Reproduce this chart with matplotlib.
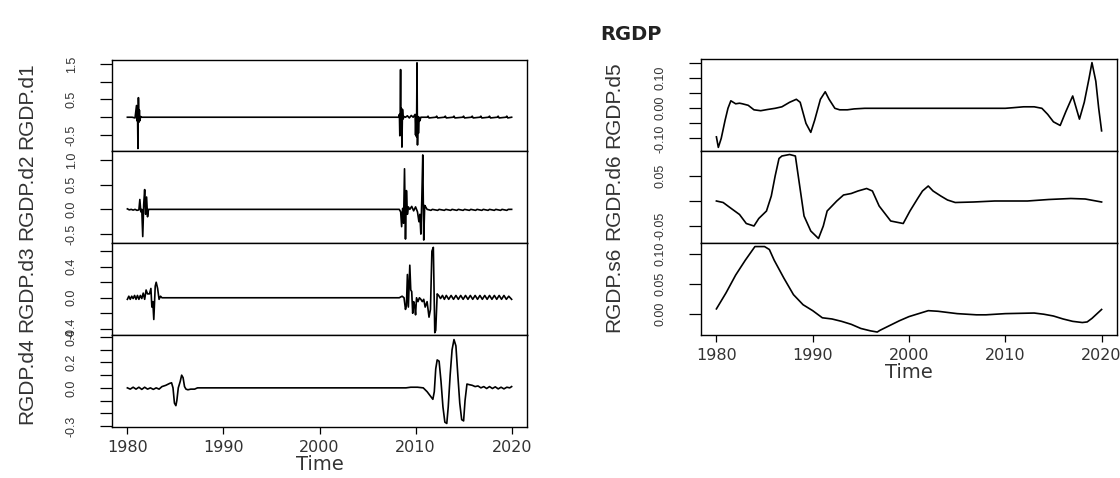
import matplotlib
matplotlib.use("Agg")
import matplotlib.pyplot as plt

# wavelet details of RGDP (time in years)
d1_t = [1980.0, 1980.5, 1980.8, 1980.95, 1981.0, 1981.05, 1981.1, 1981.15, 1981.2, 1981.25, 1981.3,
        1981.38, 1981.5, 2008.25, 2008.32, 2008.36, 2008.4, 2008.44, 2008.48, 2008.52, 2008.58, 2008.64,
        2008.7, 2008.8, 2008.95, 2009.15, 2009.35, 2009.55, 2009.75, 2009.95, 2010.0, 2010.05, 2010.1,
        2010.15, 2010.2, 2010.25, 2010.3, 2010.38, 2010.45, 2010.55, 2011.2, 2011.3, 2011.4, 2012.1,
        2012.2, 2012.3, 2013.0, 2013.1, 2013.2, 2013.9, 2014.0, 2014.1, 2014.9, 2015.0, 2015.1, 2015.8,
        2015.9, 2016.0, 2016.7, 2016.8, 2016.9, 2017.6, 2017.7, 2017.8, 2018.5, 2018.6, 2018.7, 2019.4,
        2019.5, 2019.6, 2020.0]
d1_v = [0.0, 0.0, -0.02, 0.33, -0.1, 0.3, -0.88, 0.55, -0.14, 0.2, -0.1,
        0.02, 0.0, 0.0, 0.08, -0.52, 0.1, 1.34, -0.4, 0.25, -0.84, 0.22,
        -0.05, 0.02, 0.0, 0.04, -0.02, 0.05, 0.0, 0.08, -0.5, 0.05, -0.55,
        1.53, -0.78, 0.02, -0.45, 0.0, -0.1, 0.0, 0.0, 0.03, -0.02, 0.0,
        0.03, -0.02, 0.0, 0.03, -0.02, 0.0, 0.03, -0.02, 0.0, 0.03, -0.02, 0.0,
        0.03, -0.02, 0.0, 0.03, -0.02, 0.0, 0.03, -0.02, 0.0, 0.03, -0.02, 0.0,
        0.03, -0.02, 0.0]

d2_t = [1980.0, 1980.2, 1980.4, 1980.6, 1980.8, 1981.0, 1981.2, 1981.3, 1981.4, 1981.5, 1981.6,
        1981.7, 1981.8, 1981.9, 1982.0, 1982.1, 1982.2, 1982.4, 2008.3, 2008.45, 2008.55, 2008.65,
        2008.75, 2008.85, 2008.95, 2009.05, 2009.15, 2009.25, 2009.4, 2009.6, 2009.8, 2010.0, 2010.2,
        2010.35, 2010.45, 2010.55, 2010.65, 2010.75, 2010.85, 2010.95, 2011.05, 2011.2, 2011.6, 2011.75,
        2012.3, 2012.45, 2013.0, 2013.15, 2013.65, 2013.8, 2014.3, 2014.45, 2014.95, 2015.1, 2015.6,
        2015.75, 2016.25, 2016.4, 2016.9, 2017.05, 2017.55, 2017.7, 2018.2, 2018.35, 2018.85, 2019.0,
        2019.5, 2019.65, 2020.0]
d2_v = [0.01, -0.01, 0.0, -0.015, 0.0, -0.02, -0.01, 0.2, -0.05, 0.0, -0.55,
        0.1, 0.4, -0.1, 0.25, -0.15, 0.0, 0.0, 0.0, -0.05, -0.35, 0.02,
        -0.28, 0.82, -0.6, 0.38, -0.1, 0.05, 0.0, 0.06, -0.03, 0.05, -0.05,
        -0.25, -0.1, -0.5, 0.2, 1.1, -0.62, 0.08, 0.05, 0.0, -0.02, 0.0,
        -0.02, 0.0, -0.02, 0.0, -0.02, 0.0, -0.02, 0.0, -0.02, 0.0, -0.02,
        0.0, -0.02, 0.0, -0.02, 0.0, -0.02, 0.0, -0.02, 0.0, -0.02, 0.0,
        -0.02, 0.0, 0.0]

d3_t = [1980.0, 1980.15, 1980.3, 1980.45, 1980.6, 1980.75, 1980.9, 1981.05, 1981.2, 1981.35, 1981.5,
        1981.65, 1981.8, 1981.95, 1982.1, 1982.3, 1982.45, 1982.55, 1982.65, 1982.75, 1982.9, 1983.0,
        1983.15, 1983.3, 1983.45, 1983.6, 1984.0, 2008.3, 2008.6, 2008.8, 2008.95, 2009.05, 2009.15,
        2009.25, 2009.4, 2009.5, 2009.6, 2009.7, 2009.8, 2009.9, 2010.0, 2010.1, 2010.25, 2010.4,
        2010.55, 2010.7, 2010.85, 2011.0, 2011.2, 2011.4, 2011.55, 2011.7, 2011.85, 2012.0, 2012.1,
        2012.25, 2012.4, 2012.6, 2012.8, 2013.0, 2013.2, 2013.45, 2013.7, 2013.95, 2014.2, 2014.45,
        2014.7, 2014.95, 2015.2, 2015.45, 2015.7, 2015.95, 2016.2, 2016.45, 2016.7, 2016.95, 2017.2,
        2017.45, 2017.7, 2017.95, 2018.2, 2018.45, 2018.7, 2018.95, 2019.2, 2019.45, 2019.7, 2020.0]
d3_v = [-0.02, 0.02, -0.02, 0.02, -0.01, 0.03, -0.02, 0.03, -0.02, 0.03, -0.01,
        0.06, -0.02, 0.1, 0.05, 0.05, 0.12, -0.12, -0.05, -0.28, 0.15, 0.2,
        0.12, -0.02, 0.02, 0.0, 0.0, 0.0, 0.02, 0.0, -0.15, -0.1, 0.3,
        -0.12, 0.42, 0.1, 0.08, -0.2, -0.05, -0.1, -0.22, 0.0, -0.05, 0.0,
        -0.02, -0.05, -0.02, -0.12, -0.05, -0.25, -0.15, 0.6, 0.65, -0.45, -0.42,
        0.05, 0.03, -0.01, 0.03, -0.02, 0.03, -0.02, 0.03, -0.02, 0.03, -0.02,
        0.03, -0.02, 0.03, -0.02, 0.03, -0.02, 0.03, -0.02, 0.03, -0.02, 0.03,
        -0.02, 0.03, -0.02, 0.03, -0.02, 0.03, -0.02, 0.03, -0.02, 0.02, -0.02]

d4_t = [1980.0, 1980.3, 1980.6, 1980.9, 1981.2, 1981.5, 1981.8, 1982.1, 1982.4, 1982.7, 1983.0,
        1983.3, 1983.6, 1984.0, 1984.4, 1984.6, 1984.75, 1984.9, 1985.05, 1985.15, 1985.3, 1985.5,
        1985.65, 1985.8, 1985.95, 1986.1, 1986.3, 1986.6, 1987.0, 1987.3, 2009.0, 2009.5, 2010.2,
        2010.8, 2011.2, 2011.5, 2011.8, 2011.95, 2012.1, 2012.25, 2012.45, 2012.65, 2012.85, 2013.05,
        2013.25, 2013.4, 2013.6, 2013.8, 2014.0, 2014.2, 2014.4, 2014.6, 2014.8, 2015.0, 2015.15,
        2015.35, 2015.6, 2015.9, 2016.2, 2016.5, 2016.8, 2017.1, 2017.4, 2017.7, 2018.0, 2018.3,
        2018.6, 2018.9, 2019.2, 2019.5, 2019.8, 2020.0]
d4_v = [0.0, -0.01, 0.005, -0.01, 0.005, -0.012, 0.005, -0.01, 0.0, -0.012, 0.0,
        -0.01, 0.01, 0.02, 0.035, 0.04, 0.0, -0.12, -0.14, -0.1, 0.0, 0.05,
        0.1, 0.08, 0.01, -0.01, -0.015, -0.01, -0.01, 0.0, 0.0, 0.005, 0.005,
        0.0, -0.03, -0.06, -0.09, -0.03, 0.15, 0.22, 0.21, 0.05, -0.15, -0.27,
        -0.28, -0.15, 0.1, 0.3, 0.38, 0.33, 0.1, -0.12, -0.25, -0.26, -0.1,
        0.03, 0.025, 0.02, 0.01, 0.015, 0.0, 0.01, -0.005, 0.01, -0.005, 0.008,
        -0.008, 0.005, -0.008, 0.005, 0.0, 0.01]

d5_t = [1980.0, 1980.2, 1980.5, 1980.9, 1981.2, 1981.5, 1982.0, 1982.4, 1982.7, 1983.3, 1983.9,
        1984.6, 1985.3, 1986.1, 1986.8, 1987.6, 1988.3, 1988.7, 1989.3, 1989.8, 1990.2, 1990.8,
        1991.3, 1991.7, 1992.3, 1992.8, 1993.6, 1994.3, 1995.4, 2010.0, 2010.8, 2011.9, 2013.0,
        2013.8, 2014.4, 2015.0, 2015.7, 2016.3, 2017.0, 2017.7, 2018.2, 2018.7, 2019.0, 2019.4,
        2019.7, 2020.0]
d5_v = [-0.095, -0.13, -0.1, -0.04, 0.0, 0.025, 0.015, 0.017, 0.015, 0.01, -0.005,
        -0.008, -0.004, 0.0, 0.005, 0.02, 0.03, 0.02, -0.05, -0.08, -0.04, 0.03,
        0.055, 0.03, 0.0, -0.005, -0.005, -0.002, 0.0, 0.0, 0.002, 0.005, 0.005,
        0.0, -0.02, -0.045, -0.057, -0.01, 0.041, -0.036, 0.02, 0.1, 0.152, 0.09,
        0.0, -0.075]

d6_t = [1980.0, 1980.7, 1981.4, 1982.4, 1983.1, 1983.9, 1984.4, 1985.2, 1985.7, 1986.1, 1986.5,
        1986.8, 1987.6, 1988.2, 1988.5, 1989.1, 1989.8, 1990.6, 1991.1, 1991.5, 1992.5, 1993.2,
        1994.0, 1994.7, 1995.6, 1996.2, 1996.9, 1998.1, 1999.4, 2000.1, 2000.9, 2001.4, 2002.0,
        2002.5, 2003.3, 2004.0, 2004.8, 2006.7, 2008.9, 2012.3, 2014.5, 2016.8, 2018.3, 2020.0]
d6_v = [0.0, -0.003, -0.013, -0.027, -0.045, -0.05, -0.035, -0.02, 0.01, 0.05, 0.085,
        0.09, 0.093, 0.09, 0.05, -0.03, -0.06, -0.075, -0.05, -0.02, 0.0, 0.012,
        0.015, 0.02, 0.025, 0.02, -0.01, -0.04, -0.045, -0.02, 0.005, 0.02, 0.03,
        0.02, 0.01, 0.002, -0.003, -0.002, 0.0, 0.0, 0.003, 0.005, 0.004, -0.002]

s6_t = [1980.0, 1981.0, 1982.0, 1983.0, 1984.0, 1985.0, 1985.5, 1986.0, 1987.0, 1988.0, 1989.0,
        1990.0, 1991.0, 1992.0, 1993.0, 1994.0, 1995.0, 1996.0, 1996.7, 1997.0, 1998.0, 1999.0,
        2000.0, 2001.0, 2002.0, 2003.0, 2004.0, 2005.0, 2007.0, 2008.0, 2010.0, 2013.0, 2014.0,
        2015.0, 2016.0, 2017.0, 2018.0, 2018.5, 2019.0, 2020.0]
s6_v = [0.008, 0.035, 0.065, 0.09, 0.113, 0.113, 0.108, 0.09, 0.06, 0.032, 0.015,
        0.005, -0.007, -0.009, -0.013, -0.018, -0.025, -0.029, -0.031, -0.028, -0.02, -0.012,
        -0.005, 0.0, 0.005, 0.004, 0.002, 0.0, -0.002, -0.002, 0.0, 0.001, -0.001,
        -0.004, -0.009, -0.013, -0.015, -0.014, -0.008, 0.007]

labels = ["RGDP.d1", "RGDP.d2", "RGDP.d3", "RGDP.d4", "RGDP.d5", "RGDP.d6", "RGDP.s6"]
series = [(d1_t, d1_v), (d2_t, d2_v), (d3_t, d3_v), (d4_t, d4_v),
          (d5_t, d5_v), (d6_t, d6_v), (s6_t, s6_v)]
ylims = [(-0.95, 1.61), (-0.68, 1.18), (-0.48, 0.706), (-0.308, 0.416),
         (-0.142, 0.164), (-0.084, 0.10), (-0.036, 0.119)]
yticks = [[-0.5, 0.0, 0.5, 1.0, 1.5],
          [-0.5, 0.0, 0.5, 1.0],
          [-0.4, -0.2, 0.0, 0.2, 0.4, 0.6],
          [-0.3, -0.2, -0.1, 0.0, 0.1, 0.2, 0.3, 0.4],
          [-0.10, -0.05, 0.0, 0.05, 0.10, 0.15],
          [-0.05, 0.0, 0.05],
          [0.0, 0.05, 0.10]]
ytick_labels = [["-0.5", "", "0.5", "", "1.5"],
                ["-0.5", "0.0", "0.5", "1.0"],
                ["-0.4", "", "0.0", "", "0.4", ""],
                ["-0.3", "", "", "0.0", "", "0.2", "", "0.4"],
                ["-0.10", "", "0.00", "", "0.10", ""],
                ["-0.05", "", "0.05"],
                ["0.00", "0.05", "0.10"]]
xticks = [1980, 1990, 2000, 2010, 2020]

narrow = ["Liberation Sans Narrow", "Liberation Sans", "DejaVu Sans"]
grey = "#333333"

W, H = 1120, 478
fig = plt.figure(figsize=(W / 100, H / 100), dpi=100)

# pixel boxes of the panels: (left, right, top, bottom, x of the y label)
left_rows = [60, 151, 243, 335, 427]
right_rows = [59, 151, 243, 335]
boxes = [(112, 527, left_rows[i], left_rows[i + 1], 27) for i in range(4)]
boxes += [(701, 1117, right_rows[i], right_rows[i + 1], 614) for i in range(3)]
bottom_panels = [3, 6]

for i, (x0, x1, top, bot, xlab) in enumerate(boxes):
    ax = fig.add_axes([x0 / W, 1 - bot / H, (x1 - x0) / W, (bot - top) / H])
    t, v = series[i]
    ax.plot(t, v, color="black", lw=1.2)
    ax.set_xlim(1978.4, 2021.6)
    ax.set_ylim(*ylims[i])
    ax.set_yticks(yticks[i])
    ax.set_yticklabels(ytick_labels[i], rotation=90, va="center",
                       family=narrow, fontsize=9, color=grey)
    ax.tick_params(axis="y", length=8.5, width=0.9, pad=16)
    for s in ax.spines.values():
        s.set_linewidth(1.0)
    ax.set_ylabel(labels[i], family=narrow, fontsize=15, color=grey, va="center")
    ax.yaxis.set_label_coords((xlab - x0) / (x1 - x0), 0.5)
    if i in bottom_panels:
        ax.set_xticks(xticks)
        ax.set_xticklabels([str(x) for x in xticks], fontsize=11.5, color=grey)
        ax.tick_params(axis="x", length=5, width=0.9, pad=4)
        ax.set_xlabel("Time", fontsize=14, color=grey, va="center")
        ax.xaxis.set_label_coords(0.5, -37 / (bot - top))
    else:
        ax.set_xticks([])

fig.text(631 / W, 1 - 35 / H, "RGDP", fontsize=14, fontweight="bold",
         ha="center", va="center", color="#222222")

fig.savefig("out.png", dpi=100)
